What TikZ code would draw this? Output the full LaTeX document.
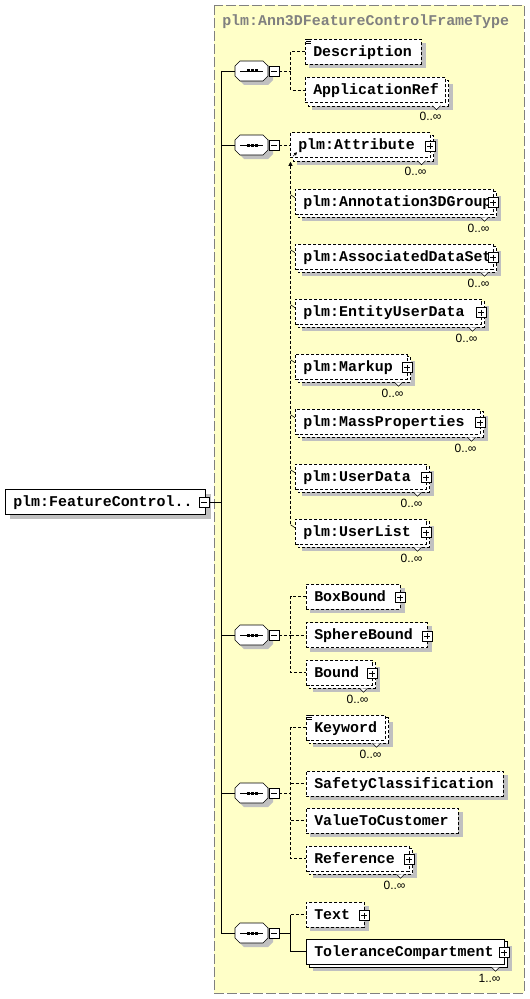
\documentclass[tikz,border=0pt]{standalone}
\usepackage{fontspec}
\newfontfamily\xsdfont{Liberation Mono}
\newfontfamily\occfont{Liberation Sans}
\usetikzlibrary{positioning,arrows.meta}
\pgfdeclarelayer{frame}
\pgfdeclarelayer{shade}
\pgfdeclarelayer{back}
\pgfsetlayers{frame,shade,back,main}

\definecolor{paneyellow}{RGB}{255,255,200}
\definecolor{shadowgrey}{RGB}{192,192,192}
\definecolor{framegrey}{RGB}{128,128,128}

\newcommand\xsdsize{\fontsize{11.2}{13}\selectfont}

\tikzset{every picture/.style={line width=0.75pt}}
\tikzset{
  dashline/.style={dash pattern=on 2.25pt off 1.5pt},
  elemw/.code={\pgfmathsetlengthmacro\elemtw{(#1-16)*0.75pt}\pgfkeysalso{text width/.expanded=\elemtw}},
  elem/.style={draw, dashline, fill=white, anchor=west, inner xsep=6pt, inner ysep=0pt,
    minimum height=18.75pt, text height=8.4pt, text depth=1.4pt, align=left,
    elemw=#1, font=\xsdfont\bfseries\xsdsize},
  btn/.style={draw, solid, fill=white, minimum size=7.5pt, inner sep=0pt},
  minus/.style={btn, path picture={\draw[solid, shorten <=1.5pt, shorten >=1.5pt]
    (path picture bounding box.west) -- (path picture bounding box.east);}},
  plus/.style={btn, path picture={\draw[solid, shorten <=1.5pt, shorten >=1.5pt]
    (path picture bounding box.west) -- (path picture bounding box.east);
    \draw[solid, shorten <=1.5pt, shorten >=1.5pt]
    (path picture bounding box.north) -- (path picture bounding box.south);}},
  seqbox/.style={minimum width=24.75pt, minimum height=15pt, inner sep=0pt},
  occurs/.style={font=\occfont\fontsize{9}{10}\selectfont, inner sep=0pt},
  conn/.style={dashline},
}

\begin{document}
\hyphenpenalty=10000
\begin{tikzpicture}[x=0.75pt,y=0.75pt,yscale=-1,xscale=1]
	\useasboundingbox (0,0) rectangle (530,999);

	%Complex type frame
	\begin{pgfonlayer}{frame}
	\draw [framegrey, dash pattern=on 7.5pt off 2.25pt, fill=paneyellow] (214,5) rectangle (524,993);
	\end{pgfonlayer}
	\node [anchor=base west, inner sep=0pt, text=framegrey, font=\xsdfont\bfseries\xsdsize] (ttl) at (222,25.5) {plm:Ann3DFeatureControlFrameType};

	%Root element
	\node [elem=200, solid] (root) at (5,501.5) {plm:FeatureControl..};
	\node [minus] (rootm) at (204,502) {};
	\coordinate (tr) at (221,502);

	%Sequences
	\foreach \s/\yy in {seqa/71,seqb/145,seqc/635,seqd/793,seqe/933}{
		\node [seqbox] (\s) at (251.5,\yy) {};
		\begin{pgfonlayer}{shade}
		\fill [shadowgrey] (244,\yy-6) -- (268,\yy-6) -- (273,\yy-1) -- (273,\yy+9) -- (268,\yy+14) -- (244,\yy+14) -- (239,\yy+9) -- (239,\yy-1) -- cycle ;
		\end{pgfonlayer}
		\draw [fill=white] (240,\yy-10) -- (263,\yy-10) -- (268,\yy-5) -- (268,\yy+5) -- (263,\yy+10) -- (240,\yy+10) -- (235,\yy+5) -- (235,\yy-5) -- cycle ;
		\draw (240,\yy) -- (263,\yy) ;
		\foreach \k in {0,1,2}
			\fill (246.5+4*\k,\yy-1.5) rectangle ++(3,3) ;
		\node [minus] (m\s) at (274,\yy) {};
	}

	%Elements
	\node [elem=116] (desc) at (305,51.5) {Description};
	\node [elem=140] (appref) at (305,90) {ApplicationRef};
	\node [elem=140] (attr) at (290,145) {plm:Attribute};
	\node [elem=198] (ann3d) at (295,201.5) {plm:Annotation3DGroup};
	\node [elem=198] (assoc) at (295,256.5) {plm:AssociatedDataSet};
	\node [elem=186] (entity) at (295,311.5) {plm:EntityUserData};
	\node [elem=112] (markup) at (295,366.5) {plm:Markup};
	\node [elem=185] (mass) at (295,421.5) {plm:MassProperties};
	\node [elem=131] (udata) at (295,476.5) {plm:UserData};
	\node [elem=131] (ulist) at (295,531.5) {plm:UserList};
	\node [elem=94] (bbox) at (306,596.5) {BoxBound};
	\node [elem=121] (sbound) at (306,635) {SphereBound};
	\node [elem=66] (bound) at (306,672.5) {Bound};
	\node [elem=79] (keyword) at (306,727.5) {Keyword};
	\node [elem=197] (safety) at (306,783.5) {SafetyClassification};
	\node [elem=152] (value) at (306,820.5) {ValueToCustomer};
	\node [elem=103] (refer) at (306,858.5) {Reference};
	\node [elem=58] (txt) at (306,914.5) {Text};
	\node [elem=198, solid] (tolcomp) at (306,951.5) {ToleranceCompartment};

	%Shadows and repeated copies
	\begin{pgfonlayer}{shade}
	\fill [shadowgrey] ([shift={(5,5)}]root.north west) rectangle ([shift={(5,5)}]root.south east);
	\foreach \e in {desc,bbox,sbound,safety,value,txt}
		\fill [shadowgrey] ([shift={(4,4)}]\e.north west) rectangle ([shift={(4,4)}]\e.south east);
	\foreach \e in {appref,attr,ann3d,assoc,entity,markup,mass,udata,ulist,bound,keyword,refer,tolcomp}
		\fill [shadowgrey] ([shift={(7,7)}]\e.north west) rectangle ([shift={(7,7)}]\e.south east);
	\end{pgfonlayer}
	\begin{pgfonlayer}{back}
	\foreach \e/\st in {appref/dashline,attr/dashline,ann3d/dashline,assoc/dashline,entity/dashline,markup/dashline,mass/dashline,udata/dashline,ulist/dashline,bound/dashline,keyword/dashline,refer/dashline,tolcomp/solid}
		\draw [\st, fill=white] ([shift={(3,3)}]\e.north west) rectangle ([shift={(3,3)}]\e.south east);
	\end{pgfonlayer}

	%Occurrences
	\foreach \e/\n in {appref/0,attr/0,ann3d/0,assoc/0,entity/0,markup/0,mass/0,udata/0,ulist/0,bound/0,keyword/0,refer/0,tolcomp/1}{
		\draw [fill=white] ([shift={(-13,3)}]\e.south east) -- ++(4,4) -- ++(4,-4) ;
		\node [occurs] (o\e) at ([shift={(-15,14)}]\e.south east) {\n..∞};
	}

	%Expand buttons
	\foreach \e in {attr,ann3d,assoc,entity,markup,mass,udata,ulist,bbox,sbound,bound,refer,txt,tolcomp}
		\node [plus] (p\e) at ([shift={(-0.5,1)}]\e.east) {};

	%Documentation marks
	\foreach \e in {desc,keyword}
		\foreach \k in {1,3,5}
			\draw [line width=0.5pt] ([shift={(1,\k)}]\e.north west) -- ++(5,0) ;

	%Connectors
	\draw (rootm) -- (tr) ;
	\draw (tr |- seqa) -- (tr |- seqe) ;
	\foreach \s in {seqa,seqb,seqc,seqd,seqe}
		\draw (tr |- \s) -- (\s.west) ;

	\coordinate (ja) at (290.5,71);
	\draw [conn] (mseqa) -- (ja) ;
	\draw [conn] (desc.west) -| (ja) |- (appref.west) ;

	\draw [conn] (mseqb) -- (attr) ;
	\draw [conn, {Triangle[length=3pt,width=3pt]}-] ([shift={(0.5,4)}]attr.south west) -- ([shift={(-4.5,6)}]ulist.north west) ;
	\foreach \e in {ann3d,assoc,entity,markup,mass,udata,ulist}
		\draw ([shift={(-4.5,6)}]\e.north west) -- ([shift={(0,9)}]\e.north west) ;
	\draw [-{Triangle[length=2.25pt,width=2.25pt]}] ([shift={(3,-1.5)}]attr.south west) -- ([shift={(7,-5.5)}]attr.south west) ;

	\coordinate (jc) at (290.5,635);
	\draw [conn] (mseqc) -- (jc) ;
	\draw [conn] (bbox.west) -| (jc) |- (bound.west) ;
	\draw [conn] (jc) -- (sbound.west) ;

	\coordinate (jd) at (290.5,793);
	\draw [conn] (mseqd) -- (jd) ;
	\draw [conn] (keyword.west) -| (jd) |- (refer.west) ;
	\draw [conn] (safety.west -| jd) -- (safety.west) ;
	\draw [conn] (value.west -| jd) -- (value.west) ;

	\coordinate (je) at (290.5,933);
	\draw (mseqe) -- (je) ;
	\draw (je |- txt.west) -- (je) |- (tolcomp.west) ;
	\draw [conn] (je |- txt.west) -- (txt.west) ;

\end{tikzpicture}
\end{document}
